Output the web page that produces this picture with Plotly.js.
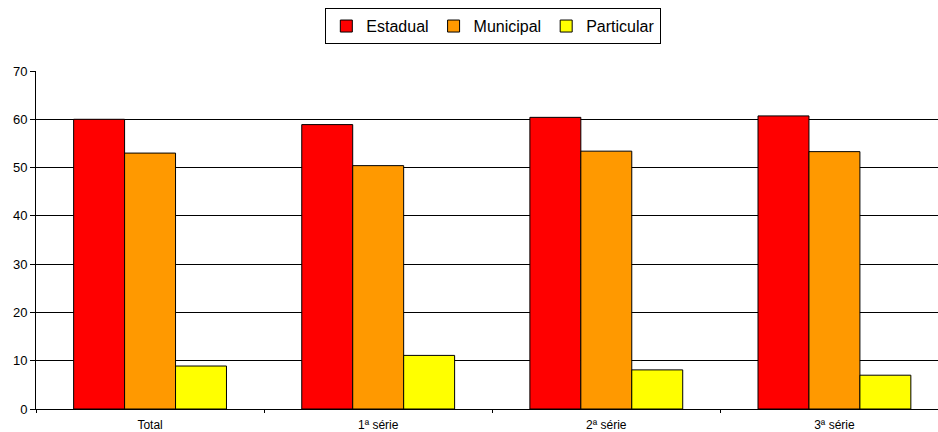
<!DOCTYPE html>
<html>
<head>
<meta charset="utf-8">
<script src="https://cdn.plot.ly/plotly-3.0.1.min.js"></script>
<style>html,body{margin:0;padding:0;background:#fff}#chart{width:938px;height:432px}</style>
</head>
<body>
<div id="chart"></div>
<script>
const categories = ["Total", "1ª série", "2ª série", "3ª série"];
const estadual = [60.0, 58.9, 60.4, 60.7];
const municipal = [53.0, 50.4, 53.4, 53.3];
const particular = [8.9, 11.1, 8.1, 7.0];
const seriesNames = ["Estadual", "Municipal", "Particular"];
const seriesColors = ["#ff0000", "#ff9900", "#ffff00"];
const yTicks = [0, 10, 20, 30, 40, 50, 60, 70];

const values = [estadual, municipal, particular];
const data = values.map((v, i) => ({
  type: "bar",
  name: seriesNames[i],
  x: categories,
  y: v,
  marker: {color: seriesColors[i], line: {color: "#000", width: 1}},
  hoverinfo: "skip"
}));

const layout = {
  width: 938, height: 432,
  margin: {l: 36, r: 0, t: 71, b: 23},
  paper_bgcolor: "#fff", plot_bgcolor: "#fff",
  font: {family: "Liberation Sans, Arial, sans-serif", color: "#000", size: 12},
  barmode: "group",
  bargap: 0.33,
  bargroupgap: 0,
  showlegend: true,
  legend: {
    orientation: "h", x: 0.507, xanchor: "center", y: 1.186, yanchor: "top",
    bordercolor: "#000", borderwidth: 1, bgcolor: "#fff",
    font: {size: 16, family: "Liberation Sans, Arial, sans-serif"},
    itemwidth: 30, tracegroupgap: 0
  },
  xaxis: {
    type: "category",
    range: [-0.5, 3.454],
    tickson: "boundaries",
    ticks: "outside", ticklen: 3, tickcolor: "#000",
    showline: true, linecolor: "#000", linewidth: 1,
    showgrid: false,
    tickfont: {size: 12},
    ticklabelstandoff: 5
  },
  yaxis: {
    range: [0, 70],
    tickvals: yTicks,
    ticks: "outside", ticklen: 5, tickcolor: "#000",
    showline: true, linecolor: "#000", linewidth: 1,
    showgrid: true, gridcolor: "#000", gridwidth: 1,
    zeroline: true, zerolinecolor: "#000",
    tickfont: {size: 13}
  }
};

Plotly.newPlot("chart", data, layout, {staticPlot: true});
</script>
</body>
</html>
